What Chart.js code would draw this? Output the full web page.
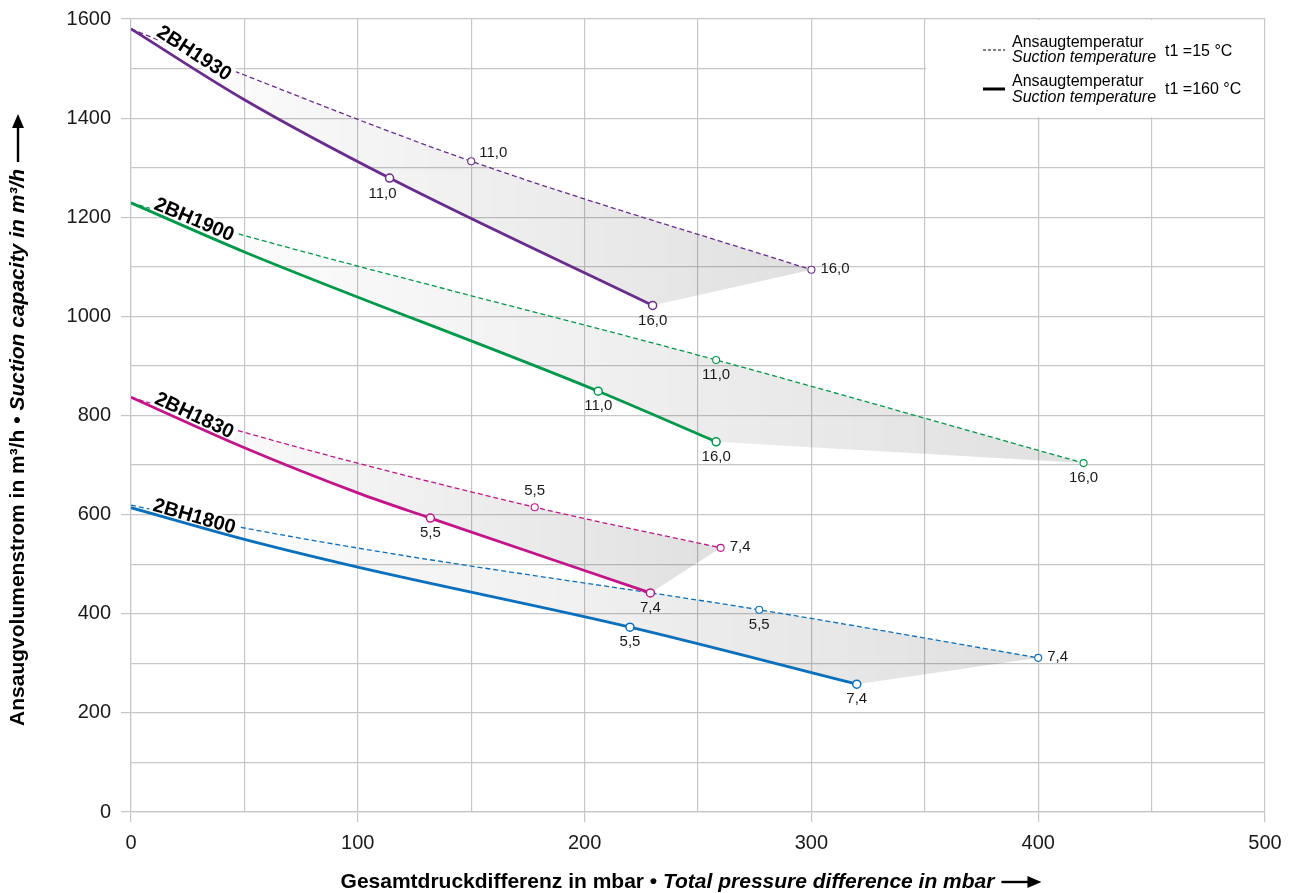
<!DOCTYPE html>
<html><head><meta charset="utf-8">
<script src="https://cdn.jsdelivr.net/npm/chart.js@4.4.1/dist/chart.umd.min.js"></script>
<style>html,body{margin:0;padding:0;background:#fff}#wrap{width:1292px;height:893px}</style>
</head><body><div id="wrap"><canvas id="c" width="1292" height="893"></canvas></div>
<script>
// ---------- DATA ----------
const models = ['2BH1930', '2BH1900', '2BH1830', '2BH1800'];
const xTickVals = [0, 100, 200, 300, 400, 500];
const yTickVals = [0, 200, 400, 600, 800, 1000, 1200, 1400, 1600];

// t1 = 160 °C (solid)
const hot1930X = [0, 50, 114, 230];
const hot1930Y = [1580, 1437, 1279, 1022];
const hot1930Lbl = ['', '', '11,0', '16,0'];
const hot1900X = [0, 50, 206, 258];
const hot1900Y = [1229, 1130, 849, 747];
const hot1900Lbl = ['', '', '11,0', '16,0'];
const hot1830X = [0, 50, 100, 132, 229];
const hot1830Y = [837, 735, 644, 593, 442];
const hot1830Lbl = ['', '', '', '5,5', '7,4'];
const hot1800X = [0, 50, 100, 220, 320];
const hot1800Y = [614, 550, 494, 373, 258];
const hot1800Lbl = ['', '', '', '5,5', '7,4'];

// t1 = 15 °C (dashed)
const cold1930X = [0, 50, 150, 300];
const cold1930Y = [1580, 1487, 1313, 1094];
const cold1930Lbl = ['', '', '11,0', '16,0'];
const cold1900X = [0, 50, 258, 420];
const cold1900Y = [1229, 1163, 912, 704];
const cold1900Lbl = ['', '', '11,0', '16,0'];
const cold1830X = [0, 50, 178, 260];
const cold1830Y = [837, 766, 615, 533];
const cold1830Lbl = ['', '', '5,5', '7,4'];
const cold1800X = [0, 50, 110, 277, 400];
const cold1800Y = [619, 573, 525, 408, 311];
const cold1800Lbl = ['', '', '', '5,5', '7,4'];

// ---------- STYLE ----------
const FONT = "'Liberation Sans', Arial, Helvetica, sans-serif";
const colors = {'2BH1930': '#6a2b8e', '2BH1900': '#00994a', '2BH1830': '#c4148a', '2BH1800': '#0a6fbd'};
const modelAngle = {'2BH1930': 33, '2BH1900': 23, '2BH1830': 25, '2BH1800': 16};
const GRID = '#c6c6c6';

const groups = [
  {model: models[0], hx: hot1930X, hy: hot1930Y, hl: hot1930Lbl, cx: cold1930X, cy: cold1930Y, cl: cold1930Lbl},
  {model: models[1], hx: hot1900X, hy: hot1900Y, hl: hot1900Lbl, cx: cold1900X, cy: cold1900Y, cl: cold1900Lbl},
  {model: models[2], hx: hot1830X, hy: hot1830Y, hl: hot1830Lbl, cx: cold1830X, cy: cold1830Y, cl: cold1830Lbl},
  {model: models[3], hx: hot1800X, hy: hot1800Y, hl: hot1800Lbl, cx: cold1800X, cy: cold1800Y, cl: cold1800Lbl}
];
// label placement (by model, series kind, label text)
const placement = {
  '2BH1930': {hot: {'11,0': 'belowLeft', '16,0': 'below'}, cold: {'11,0': 'aboveRight', '16,0': 'right'}},
  '2BH1900': {hot: {'11,0': 'below', '16,0': 'below'}, cold: {'11,0': 'below', '16,0': 'below'}},
  '2BH1830': {hot: {'5,5': 'below', '7,4': 'below'}, cold: {'5,5': 'above', '7,4': 'right'}},
  '2BH1800': {hot: {'5,5': 'below', '7,4': 'below'}, cold: {'5,5': 'below', '7,4': 'right'}}
};

const toPts = (xs, ys) => xs.map((x, i) => ({x: x, y: ys[i]}));
const datasets = [];
groups.forEach(g => {
  const lbl = g.hl;
  datasets.push({
    label: g.model + ' 160', kind: 'hot', model: g.model, lbls: lbl,
    data: toPts(g.hx, g.hy), borderColor: colors[g.model], borderWidth: 2.8,
    cubicInterpolationMode: 'monotone', fill: false,
    pointRadius: c => lbl[c.dataIndex] ? 4 : 0, pointHoverRadius: c => lbl[c.dataIndex] ? 4 : 0,
    pointBackgroundColor: '#fff', pointBorderColor: colors[g.model], pointBorderWidth: 1.5
  });
});
groups.forEach(g => {
  const lbl = g.cl;
  datasets.push({
    label: g.model + ' 15', kind: 'cold', model: g.model, lbls: lbl,
    data: toPts(g.cx, g.cy), borderColor: colors[g.model], borderWidth: 1.3, borderDash: [5, 3],
    cubicInterpolationMode: 'monotone', fill: false,
    pointRadius: c => lbl[c.dataIndex] ? 3.5 : 0, pointHoverRadius: c => lbl[c.dataIndex] ? 3.5 : 0,
    pointBackgroundColor: '#fff', pointBorderColor: colors[g.model], pointBorderWidth: 1.1
  });
});

function pathForward(ctx, pts) {
  for (let i = 1; i < pts.length; i++) {
    const p = pts[i - 1], q = pts[i];
    if (p.cp2x !== undefined && q.cp1x !== undefined) ctx.bezierCurveTo(p.cp2x, p.cp2y, q.cp1x, q.cp1y, q.x, q.y);
    else ctx.lineTo(q.x, q.y);
  }
}
function pathBackward(ctx, pts) {
  for (let i = pts.length - 1; i > 0; i--) {
    const p = pts[i], q = pts[i - 1];
    if (p.cp1x !== undefined && q.cp2x !== undefined) ctx.bezierCurveTo(p.cp1x, p.cp1y, q.cp2x, q.cp2y, q.x, q.y);
    else ctx.lineTo(q.x, q.y);
  }
}
function drawMixed(ctx, parts, cx, y, arrowLen) {
  let w = 0;
  parts.forEach(p => { ctx.font = p.f; p.w = ctx.measureText(p.t).width; w += p.w; });
  const gap = 7;
  const total = w + gap + arrowLen;
  let x = cx - total / 2;
  ctx.textBaseline = 'middle'; ctx.textAlign = 'left'; ctx.fillStyle = '#000';
  parts.forEach(p => { ctx.font = p.f; ctx.fillText(p.t, x, y); x += p.w; });
  x += gap;
  ctx.strokeStyle = '#000'; ctx.lineWidth = 2.4;
  ctx.beginPath(); ctx.moveTo(x, y); ctx.lineTo(x + arrowLen - 10, y); ctx.stroke();
  ctx.beginPath(); ctx.moveTo(x + arrowLen, y); ctx.lineTo(x + arrowLen - 14, y - 6); ctx.lineTo(x + arrowLen - 14, y + 6); ctx.closePath(); ctx.fill();
}

const customPlugin = {
  id: 'custom',
  beforeDatasetsDraw(chart) {
    const ctx = chart.ctx, xs = chart.scales.x, ys = chart.scales.y, a = chart.chartArea;
    // legend background box
    const lx = xs.getPixelForValue(350), ly = ys.getPixelForValue(1400);
    ctx.save();
    ctx.fillStyle = '#fff';
    ctx.fillRect(lx + 1, a.top + 1, a.right - lx - 2, ly - a.top - 2);
    // shaded areas between curves
    groups.forEach((g, gi) => {
      const hm = chart.getDatasetMeta(gi), cm = chart.getDatasetMeta(gi + groups.length);
      hm.dataset.updateControlPoints(a, 'x'); cm.dataset.updateControlPoints(a, 'x');
      const hp = hm.data, cp = cm.data;
      const x0 = cp[0].x, x1 = Math.max(cp[cp.length - 1].x, hp[hp.length - 1].x);
      const grad = ctx.createLinearGradient(x0, 0, x1, 0);
      grad.addColorStop(0, 'rgba(0,0,0,0.0)');
      grad.addColorStop(1, 'rgba(0,0,0,0.12)');
      ctx.fillStyle = grad;
      ctx.beginPath();
      ctx.moveTo(cp[0].x, cp[0].y);
      pathForward(ctx, cp);
      ctx.lineTo(hp[hp.length - 1].x, hp[hp.length - 1].y);
      pathBackward(ctx, hp);
      ctx.closePath();
      ctx.fill();
    });
    // legend
    ctx.strokeStyle = '#000'; ctx.fillStyle = '#000';
    ctx.lineWidth = 1.2; ctx.setLineDash([3, 2]);
    ctx.beginPath(); ctx.moveTo(983, 50); ctx.lineTo(1005, 50); ctx.stroke();
    ctx.setLineDash([]); ctx.lineWidth = 3;
    ctx.beginPath(); ctx.moveTo(983, 89); ctx.lineTo(1005, 89); ctx.stroke();
    ctx.textAlign = 'left'; ctx.textBaseline = 'alphabetic';
    ctx.font = '16px ' + FONT;
    ctx.fillText('Ansaugtemperatur', 1012, 47);
    ctx.fillText('Ansaugtemperatur', 1012, 86);
    ctx.font = 'italic 16px ' + FONT;
    ctx.fillText('Suction temperature', 1012, 62);
    ctx.fillText('Suction temperature', 1012, 102);
    ctx.font = '16px ' + FONT;
    ctx.fillText('t1 =15 °C', 1165, 56);
    ctx.fillText('t1 =160 °C', 1165, 94);
    ctx.restore();
  },
  afterDatasetDraw(chart, args) {
    // model name label, drawn after the dashed line and before the solid one
    const ds = chart.data.datasets[args.index];
    if (ds.kind !== 'cold') return;
    const ctx = chart.ctx, xs = chart.scales.x;
    const pts = args.meta.data;
    const px = xs.getPixelForValue(28);
    let py = pts[0].y;
    for (let i = 1; i < pts.length; i++) {
      if (pts[i].x >= px) { const t = (px - pts[i - 1].x) / (pts[i].x - pts[i - 1].x); py = pts[i - 1].y + t * (pts[i].y - pts[i - 1].y); break; }
    }
    py -= 2;
    ctx.save();
    ctx.translate(px, py);
    ctx.rotate(modelAngle[ds.model] * Math.PI / 180);
    ctx.font = 'bold 20px ' + FONT;
    const w = ctx.measureText(ds.model).width;
    ctx.fillStyle = '#fff';
    ctx.fillRect(-w / 2 - 3, -9, w + 6, 18);
    ctx.fillStyle = '#000';
    ctx.textAlign = 'center'; ctx.textBaseline = 'middle';
    ctx.fillText(ds.model, 0, 1);
    ctx.restore();
  },
  afterDatasetsDraw(chart) {
    const ctx = chart.ctx;
    ctx.save();
    ctx.font = '15px ' + FONT; ctx.fillStyle = '#1a1a1a';
    chart.data.datasets.forEach((ds, di) => {
      const meta = chart.getDatasetMeta(di);
      ds.lbls.forEach((t, i) => {
        if (!t) return;
        const p = meta.data[i];
        const pos = placement[ds.model][ds.kind][t];
        ctx.textBaseline = 'middle';
        if (pos === 'below') { ctx.textAlign = 'center'; ctx.fillText(t, p.x, p.y + 15); }
        else if (pos === 'belowLeft') { ctx.textAlign = 'center'; ctx.fillText(t, p.x - 7, p.y + 16); }
        else if (pos === 'above') { ctx.textAlign = 'center'; ctx.fillText(t, p.x, p.y - 16); }
        else if (pos === 'right') { ctx.textAlign = 'left'; ctx.fillText(t, p.x + 9, p.y - 1); }
        else if (pos === 'aboveRight') { ctx.textAlign = 'left'; ctx.fillText(t, p.x + 8, p.y - 8); }
      });
    });
    // axis titles
    drawMixed(ctx, [
      {t: 'Gesamtdruckdifferenz in mbar • ', f: 'bold 21px ' + FONT},
      {t: 'Total pressure difference in mbar', f: 'italic bold 21px ' + FONT}
    ], 691, 882, 40);
    ctx.translate(18, 420);
    ctx.rotate(-Math.PI / 2);
    drawMixed(ctx, [
      {t: 'Ansaugvolumenstrom in m³/h • ', f: 'bold 21px ' + FONT},
      {t: 'Suction capacity in m³/h', f: 'italic bold 21px ' + FONT}
    ], 0, 0, 48);
    ctx.restore();
  }
};

new Chart(document.getElementById('c'), {
  type: 'line',
  data: {datasets: datasets},
  options: {
    responsive: false, animation: false, devicePixelRatio: 1,
    layout: {padding: {left: 0, top: 19, right: 27, bottom: 0}},
    plugins: {legend: {display: false}, tooltip: {enabled: false}},
    events: [],
    scales: {
      x: {
        type: 'linear', min: 0, max: 500,
        ticks: {stepSize: 50, autoSkip: false, maxRotation: 0, padding: 9, color: '#1a1a1a',
          font: {family: FONT, size: 20},
          callback: v => xTickVals.includes(v) ? String(v) : ''},
        grid: {color: GRID, lineWidth: 1.2, tickLength: 10,
          tickColor: c => (c.tick && xTickVals.includes(c.tick.value)) ? GRID : 'rgba(0,0,0,0)'},
        border: {color: GRID, width: 1.2},
        afterFit: s => { s.height = 81; s.paddingLeft = 0; s.paddingRight = 0; }
      },
      y: {
        type: 'linear', min: 0, max: 1600,
        ticks: {stepSize: 100, autoSkip: false, padding: 10, color: '#1a1a1a',
          font: {family: FONT, size: 20},
          callback: v => yTickVals.includes(v) ? String(v) : ''},
        grid: {color: GRID, lineWidth: 1.2, tickLength: 10,
          tickColor: c => (c.tick && yTickVals.includes(c.tick.value)) ? GRID : 'rgba(0,0,0,0)'},
        border: {color: GRID, width: 1.2},
        afterFit: s => { s.width = 131; s.paddingTop = 0; s.paddingBottom = 0; }
      }
    }
  },
  plugins: [customPlugin]
});
</script>
</body></html>
